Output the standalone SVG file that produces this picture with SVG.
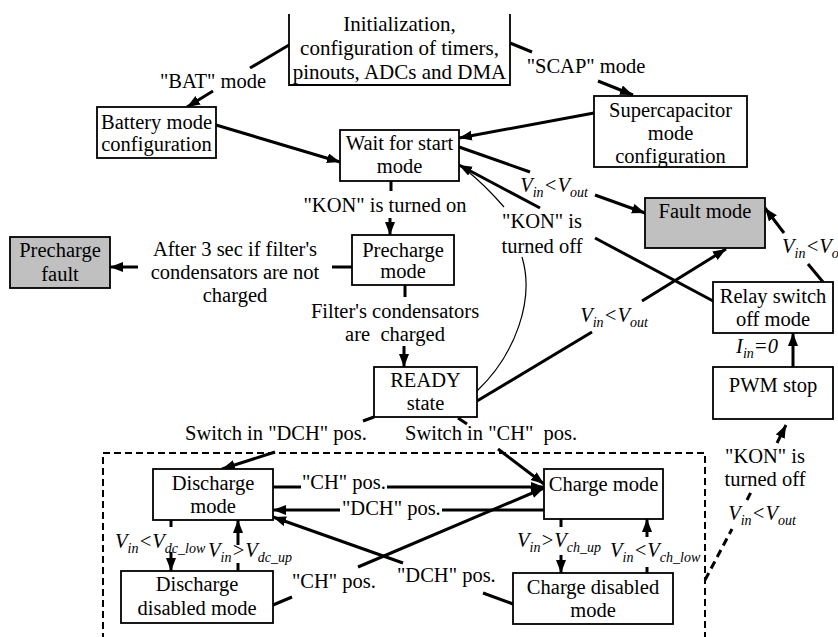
<svg xmlns="http://www.w3.org/2000/svg" width="838" height="637" viewBox="0 0 838 637">
<defs>
<style>
.box{fill:#fff;stroke:#000;stroke-width:1.8}
.gray{fill:#c0c0c0}
.t{font-family:"Liberation Serif","Times New Roman",serif;font-size:20.5px;fill:#000}
.m{text-anchor:middle}
.i{font-style:italic}
.s{font-size:14px}
.e{fill:none;stroke:#000;stroke-width:3}
.thin{stroke-width:1.2}
.dash{fill:none;stroke:#000;stroke-width:2;stroke-dasharray:7 4}
.dl{stroke-dasharray:8 5}
</style>
<marker id="ah" markerUnits="userSpaceOnUse" markerWidth="14" markerHeight="11" refX="13" refY="5" orient="auto">
<path d="M0,0 L13,5 L0,10 z" fill="#000"/>
</marker>
</defs>
<rect width="838" height="637" fill="#fff"/>

<g id="connectors">
<path class="e" d="M289,45 L250,68"/>
<path class="e" d="M213,91 L187,107" marker-end="url(#ah)"/>
<path class="e" d="M510,43 L532,52"/>
<path class="e" d="M598,81 L633,95" marker-end="url(#ah)"/>
<path class="e" d="M216,125 L340,162" marker-end="url(#ah)"/>
<path class="e" d="M594,113 L459,138" marker-end="url(#ah)"/>
<path class="e" d="M459,147 L530,172"/>
<path class="e" d="M595,195 L645,213" marker-end="url(#ah)"/>
<path class="e" d="M391,181 L391,191"/>
<path class="e" d="M390,218 L390,235" marker-end="url(#ah)"/>
<path class="e" d="M352,267 L332,267"/>
<path class="e" d="M138,267 L110,267" marker-end="url(#ah)"/>
<path class="e" d="M405,285 L405,297"/>
<path class="e" d="M404,346 L404,367" marker-end="url(#ah)"/>
<path class="e" d="M477,401 L592,332"/>
<path class="e" d="M642,301 L726,249" marker-end="url(#ah)"/>
<path class="e" d="M715,302 L595,238"/>
<path class="e" d="M540,208 L459,165" marker-end="url(#ah)"/>
<path class="e thin" d="M477,391 C515,355 535,300 522,257"/>
<path class="e thin" d="M504,207 Q485,185 465,169"/>
<path class="e" d="M823,282 L808,264"/>
<path class="e" d="M784,233 L765,208" marker-end="url(#ah)"/>
<path class="e" d="M793,367 L793,333" marker-end="url(#ah)"/>
<path class="e dl" d="M705,580 L732,529"/>
<path class="e dl" d="M747,500 L751,492"/>
<path class="e" d="M777,443 L786,425" marker-end="url(#ah)"/>
<path class="e" d="M374,417 L363,421"/>
<path class="e" d="M275,452 L222,469" marker-end="url(#ah)"/>
<path class="e" d="M458,418 L467,424"/>
<path class="e" d="M498,449 L544,484" marker-end="url(#ah)"/>
<path class="e" d="M273,487 L301,487"/>
<path class="e" d="M387,487 L544,487" marker-end="url(#ah)"/>
<path class="e" d="M544,510 L442,510"/>
<path class="e" d="M340,510 L273,510" marker-end="url(#ah)"/>
<path class="e" d="M273,605 L292,597"/>
<path class="e" d="M358,567 L544,488" marker-end="url(#ah)"/>
<path class="e" d="M513,604 L483,593"/>
<path class="e" d="M403,563 L273,517" marker-end="url(#ah)"/>
<path class="e" d="M171,520 V527"/>
<path class="e" d="M171,552 V571" marker-end="url(#ah)"/>
<path class="e" d="M238,571 V563"/>
<path class="e" d="M238,545 V520" marker-end="url(#ah)"/>
<path class="e" d="M561,519 V527"/>
<path class="e" d="M561,555 V573" marker-end="url(#ah)"/>
<path class="e" d="M647,573 V567"/>
<path class="e" d="M647,537 V519" marker-end="url(#ah)"/>
<path class="dash" d="M103,640 V453 H705 V640"/>
</g>

<g id="labels" class="t">
<text class="t m" x="213" y="88">"BAT" mode</text>
<text class="t m" x="586" y="73">"SCAP" mode</text>
<text class="t m i" x="554" y="192">V<tspan class="s" dy="5">in</tspan><tspan dy="-5">&lt;V</tspan><tspan class="s" dy="5">out</tspan></text>
<text class="t m" x="385" y="212">"KON" is turned on</text>
<text class="t m" x="542" y="228">"KON" is</text>
<text class="t m" x="542" y="253">turned off</text>
<text class="t i" x="782" y="253">V<tspan class="s" dy="5">in</tspan><tspan dy="-5">&lt;V</tspan><tspan class="s" dy="5">out</tspan></text>
<text class="t m" x="235" y="256">After 3 sec if filter's</text>
<text class="t m" x="235" y="279">condensators are not</text>
<text class="t m" x="235" y="302">charged</text>
<text class="t m" x="395" y="318">Filter's condensators</text>
<text class="t m" x="395" y="341" xml:space="preserve">are  charged</text>
<text class="t m i" x="614" y="322">V<tspan class="s" dy="5">in</tspan><tspan dy="-5">&lt;V</tspan><tspan class="s" dy="5">out</tspan></text>
<text class="t m i" x="757" y="353">I<tspan class="s" dy="5">in</tspan><tspan dy="-5">=0</tspan></text>
<text class="t m" x="276" y="440">Switch in "DCH" pos.</text>
<text class="t" x="405" y="440" xml:space="preserve">Switch in "CH"  pos.</text>
<text class="t m" x="765" y="463">"KON" is</text>
<text class="t m" x="765" y="486">turned off</text>
<text class="t m i" x="762" y="520">V<tspan class="s" dy="5">in</tspan><tspan dy="-5">&lt;V</tspan><tspan class="s" dy="5">out</tspan></text>
<text class="t" x="302" y="489">"CH" pos.</text>
<text class="t" x="342" y="515">"DCH" pos.</text>
<text class="t i" x="115" y="548">V<tspan class="s" dy="5">in</tspan><tspan dy="-5">&lt;V</tspan><tspan class="s" dy="5">dc_low</tspan></text>
<text class="t i" x="208" y="557">V<tspan class="s" dy="5">in</tspan><tspan dy="-5">&gt;V</tspan><tspan class="s" dy="5">dc_up</tspan></text>
<text class="t i" x="517" y="547">V<tspan class="s" dy="5">in</tspan><tspan dy="-5">&gt;V</tspan><tspan class="s" dy="5">ch_up</tspan></text>
<text class="t i" x="610" y="557">V<tspan class="s" dy="5">in</tspan><tspan dy="-5">&lt;V</tspan><tspan class="s" dy="5">ch_low</tspan></text>
<text class="t" x="292" y="588">"CH" pos.</text>
<text class="t" x="397" y="582">"DCH" pos.</text>
</g>

<g id="init">
<path d="M289,14 V85 H510 V14" fill="#fff" stroke="#000" stroke-width="1.8"/>
<text class="t m" x="399.5" y="31" style="font-size:21px">Initialization,</text>
<text class="t m" x="399.5" y="55" style="font-size:21px">configuration of timers,</text>
<text class="t m" x="399.5" y="79" style="font-size:21px">pinouts, ADCs and DMA</text>
</g>
<g id="battery">
<rect class="box" x="97" y="107" width="119" height="51"/>
<text class="t m" x="156.5" y="129">Battery mode</text>
<text class="t m" x="156.5" y="151">configuration</text>
</g>
<g id="wait">
<rect class="box" x="340" y="130" width="119" height="51"/>
<text class="t m" x="399.5" y="150">Wait for start</text>
<text class="t m" x="399.5" y="173">mode</text>
</g>
<g id="supercap">
<rect class="box" x="594" y="96" width="153" height="71"/>
<text class="t m" x="670.5" y="117">Supercapacitor</text>
<text class="t m" x="670.5" y="140">mode</text>
<text class="t m" x="670.5" y="163">configuration</text>
</g>
<g id="fault">
<rect class="box gray" x="645" y="198" width="120" height="50"/>
<text class="t m" x="705" y="218">Fault mode</text>
</g>
<g id="relay">
<rect class="box" x="713" y="282" width="120" height="51"/>
<text class="t m" x="773" y="303">Relay switch</text>
<text class="t m" x="773" y="326">off mode</text>
</g>
<g id="pwm">
<rect class="box" x="713" y="367" width="120" height="52"/>
<text class="t m" x="773" y="392">PWM stop</text>
</g>
<g id="precharge">
<rect class="box" x="352" y="235" width="102" height="50"/>
<text class="t m" x="403" y="257">Precharge</text>
<text class="t m" x="403" y="278">mode</text>
</g>
<g id="prechargefault">
<rect class="box gray" x="10" y="237" width="100" height="51"/>
<text class="t m" x="60" y="257">Precharge</text>
<text class="t m" x="60" y="281">fault</text>
</g>
<g id="ready">
<rect class="box" x="374" y="367" width="103" height="50"/>
<text class="t m" x="425.5" y="387">READY</text>
<text class="t m" x="425.5" y="410">state</text>
</g>
<g id="discharge">
<rect class="box" x="153" y="469" width="120" height="51"/>
<text class="t m" x="213" y="490">Discharge</text>
<text class="t m" x="213" y="513">mode</text>
</g>
<g id="charge">
<rect class="box" x="544" y="469" width="119" height="50"/>
<text class="t m" x="603.5" y="491">Charge mode</text>
</g>
<g id="dischargedisabled">
<rect class="box" x="121" y="571" width="152" height="52"/>
<text class="t m" x="197" y="591">Discharge</text>
<text class="t m" x="197" y="615">disabled mode</text>
</g>
<g id="chargedisabled">
<rect class="box" x="513" y="573" width="160" height="51"/>
<text class="t m" x="593" y="594">Charge disabled</text>
<text class="t m" x="593" y="617">mode</text>
</g>
</svg>
